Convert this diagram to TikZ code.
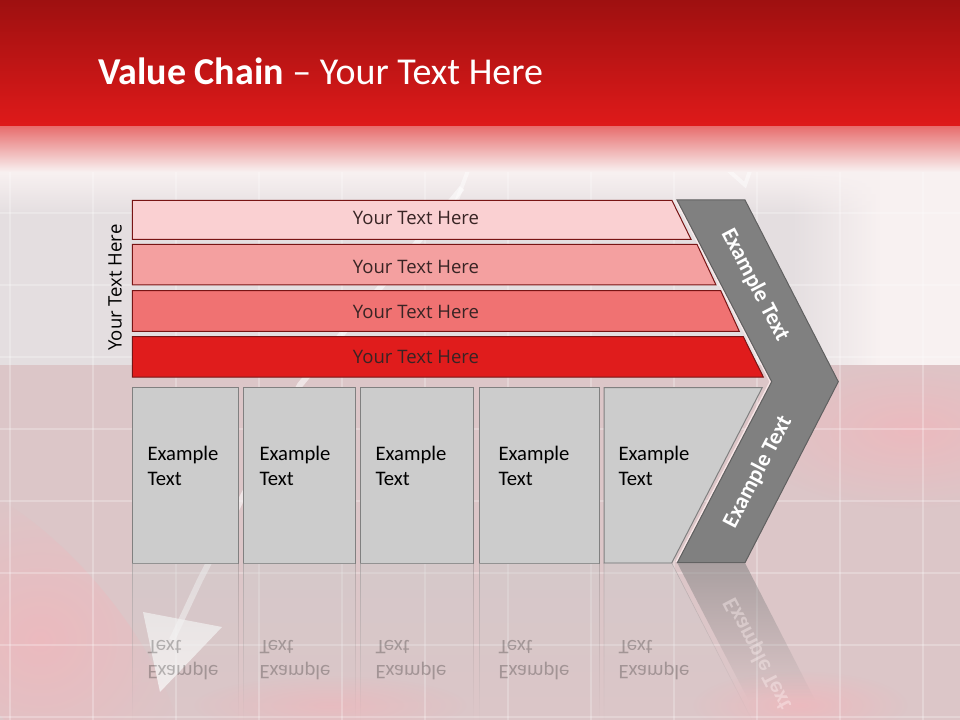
\documentclass[tikz,border=0pt]{standalone}
\usepackage{fontspec}
\setmainfont{Carlito}
\newfontfamily\segoe{Open Sans}
\usepackage{tikz}
\usetikzlibrary{fadings}

\definecolor{bandtop}{RGB}{158,16,16}
\definecolor{bandbot}{RGB}{224,26,26}
\definecolor{bandfade}{RGB}{232,112,112}
\definecolor{bglight}{RGB}{248,241,241}
\definecolor{bgmid}{RGB}{228,222,224}
\definecolor{bglow}{RGB}{220,198,200}
\definecolor{glowpink}{RGB}{246,178,184}
\definecolor{barA}{RGB}{250,208,210}
\definecolor{barB}{RGB}{244,160,160}
\definecolor{barC}{RGB}{240,114,114}
\definecolor{barD}{RGB}{224,28,28}
\definecolor{barline}{RGB}{120,20,20}
\definecolor{bartxt}{RGB}{56,36,36}
\definecolor{boxfill}{RGB}{204,204,204}
\definecolor{boxline}{RGB}{128,128,128}
\definecolor{chevfill}{RGB}{128,128,128}
\definecolor{chevline}{RGB}{96,96,96}

\tikzfading[name=reflfade, top color=transparent!60, bottom color=transparent!100]
\tikzfading[name=chevfade, top color=transparent!45, bottom color=transparent!100]
\tikzfading[name=fadeleft, left color=transparent!100, right color=transparent!0]
\tikzfading[name=fadedown, top color=transparent!0, bottom color=transparent!100]

\begin{document}
\begin{tikzpicture}[x=0.75pt,y=-0.75pt,
		bar/.style={draw=barline,line width=0.75pt},
		box/.style={draw=boxline,fill=boxfill,line width=0.75pt},
		bartext/.style={font=\segoe\fontsize{13.9}{16}\selectfont,text=bartxt,anchor=base,inner sep=0pt},
		boxtext/.style={font=\fontsize{15.5}{18.75}\selectfont,align=left,anchor=north west,inner sep=0pt},
		chevtext/.style={font=\bfseries\fontsize{17}{20}\selectfont,text=white,inner sep=0pt},
		gridline/.style={white,opacity=0.25,line width=1.2pt}]
		\useasboundingbox (0,0) rectangle (960,720);
		% background
		\fill[bgmid] (0,0) rectangle (960,720);
		\fill[bglight,path fading=fadeleft] (790,172) rectangle (880,365);
		\fill[bglight] (880,172) rectangle (960,365);
		\fill[bglight,path fading=fadedown] (0,172) rectangle (960,215);
		\fill[bglow] (0,365) rectangle (960,720);
		\begin{scope}
			\clip (0,365) rectangle (960,720);
			\shade[inner color=glowpink,outer color=bglow,opacity=0.6] (910,430) ellipse (170 and 80);
			\shade[inner color=glowpink,outer color=bglow,opacity=0.6,rotate around={-50:(40,640)}] (40,640) ellipse (200 and 80);
			\shade[inner color=glowpink,outer color=bglow,opacity=0.5] (330,705) ellipse (140 and 30);
			\shade[inner color=glowpink,outer color=bglow,opacity=0.6] (800,705) ellipse (110 and 35);
		\end{scope}
		\foreach \gx in {10,93,...,923}
			\draw[gridline] (\gx,130) -- (\gx,720);
		\foreach \gy in {141,213,...,717}
			\draw[gridline] (0,\gy) -- (960,\gy);
		\draw[white,opacity=0.55,line width=4.5pt] (462,188) -- (300,385) -- (200,580) -- (172,640);
		\fill[white,opacity=0.7] (143,612) -- (222,627) -- (160,692) -- cycle;
		\draw[white,opacity=0.45,line width=3pt] (455,205) -- (484,128);
		\draw[white,opacity=0.45,line width=3pt] (700,145) -- (745,185) -- (765,128);
		% title band
		\shade[top color=bandtop,bottom color=bandbot] (0,0) rectangle (960,128);
		\shade[top color=bandfade,bottom color=bglight] (0,127) rectangle (960,172);
		\node[anchor=base west,text=white,font=\fontsize{28.5}{34}\selectfont,inner sep=0pt] (title) at (98,85) {\textbf{Value Chain} -- Your Text Here};
		% bars
		\draw[bar,fill=barA] (132.3,200.5) -- (672,200.5) -- (691,239.3) -- (132.3,239.3) -- cycle;
		\draw[bar,fill=barB] (132.3,244.3) -- (697,244.3) -- (716,285) -- (132.3,285) -- cycle;
		\draw[bar,fill=barC] (132.3,290.7) -- (720.7,290.7) -- (739.3,331.3) -- (132.3,331.3) -- cycle;
		\draw[bar,fill=barD] (132.3,336.7) -- (743.3,336.7) -- (763.3,377) -- (132.3,377) -- cycle;
		\node[bartext] (barA) at (416,225) {Your Text Here};
		\node[bartext] (barB) at (416,273.3) {Your Text Here};
		\node[bartext] (barC) at (416,318.3) {Your Text Here};
		\node[bartext] (barD) at (416,363.3) {Your Text Here};
		\node[bartext,text=black,anchor=center,rotate=90] (side) at (115,287.5) {Your Text Here};
		% chevron
		\draw[white!75!pink,line width=3pt,opacity=0.8] (677,200) -- (771.7,381.7) -- (677.3,562.7);
		\draw[fill=chevfill,draw=chevline,line width=0.75pt] (677,200) -- (745,200) -- (838.3,381.7) -- (745,562.7) -- (677.3,562.7) -- (771.7,381.7) -- cycle;
		\node[chevtext,rotate=-62.5] (chevup) at (755,285) {Example Text};
		\node[chevtext,rotate=62.5] (chevdown) at (758,472) {Example Text};
		% boxes
		\draw[box] (132.3,387.5) rectangle (238.3,563);
		\draw[box] (243.3,387.5) rectangle (355.3,563);
		\draw[box] (360.3,387.5) rectangle (473.3,563);
		\draw[box] (479.3,387.5) rectangle (599.3,563);
		\draw[box] (604,387.5) -- (762.3,387.5) -- (671.7,563) -- (604,563) -- cycle;
		\foreach \bx/\bname in {147.3/boxA,259.3/boxB,375.3/boxC,498.3/boxD,618.3/boxE}
			\node[boxtext] (\bname) at (\bx,445.5) {Example\\Text};
		% reflection
		\path[fill=boxfill,draw=boxline,path fading=reflfade] (132.3,563) rectangle (238.3,720);
		\path[fill=boxfill,draw=boxline,path fading=reflfade] (243.3,563) rectangle (355.3,720);
		\path[fill=boxfill,draw=boxline,path fading=reflfade] (360.3,563) rectangle (473.3,720);
		\path[fill=boxfill,draw=boxline,path fading=reflfade] (479.3,563) rectangle (599.3,720);
		\path[fill=boxfill,draw=boxline,path fading=reflfade] (604,563) -- (671.7,563) -- (752,720) -- (604,720) -- cycle;
		\path[fill=chevfill,path fading=chevfade] (677.3,563) -- (745,563) -- (815,700) -- (748.4,700) -- cycle;
		\begin{scope}[shift={(0,1126)},yscale=-1]
			\foreach \bx/\bname in {147.3/mirA,259.3/mirB,375.3/mirC,498.3/mirD,618.3/mirE}
				\node[boxtext,opacity=0.25,transform shape] (\bname) at (\bx,445.5) {Example\\Text};
			\node[chevtext,rotate=62.5,text=white!80!pink,opacity=0.4,transform shape] (mirchev) at (758,472) {Example Text};
		\end{scope}
	\end{tikzpicture}
\end{document}
